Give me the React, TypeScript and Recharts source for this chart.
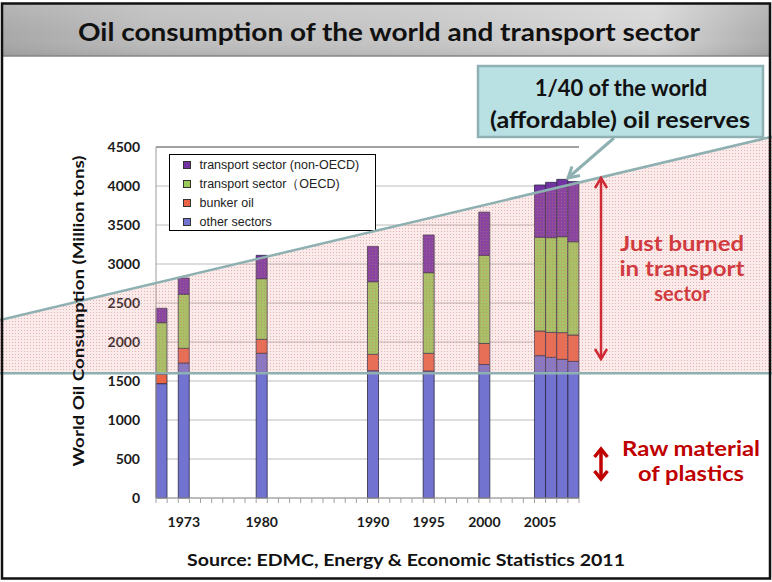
import React from 'react';
import { BarChart, Bar, XAxis, YAxis, CartesianGrid, Legend, ReferenceLine } from 'recharts';

// ---------- data ----------
const AXIS_YEARS = [
  '1971', '1972', '1973', '1974', '1975', '1976', '1977', '1978', '1979', '1980',
  '1981', '1982', '1983', '1984', '1985', '1986', '1987', '1988', '1989', '1990',
  '1991', '1992', '1993', '1994', '1995', '1996', '1997', '1998', '1999', '2000',
  '2001', '2002', '2003', '2004', '2005', '2006', '2007', '2008',
];
const LABEL_YEARS = ['1973', '1980', '1990', '1995', '2000', '2005'];
const BAR_YEARS = ['1971', '1973', '1980', '1990', '1995', '2000', '2005', '2006', '2007', '2008'];
const OTHER_SECTORS = [1466, 1730, 1855, 1632, 1628, 1712, 1825, 1803, 1778, 1752];
const BUNKER_OIL = [124, 189, 179, 210, 227, 269, 316, 321, 342, 338];
const TRANSPORT_OECD = [658, 692, 778, 931, 1034, 1128, 1201, 1214, 1230, 1196];
const TRANSPORT_NON_OECD = [184, 209, 299, 453, 483, 556, 671, 709, 735, 770];
const Y_TICKS = [0, 500, 1000, 1500, 2000, 2500, 3000, 3500, 4000, 4500];

const SERIES = [
  { key: 'other', name: 'other sectors', color: '#7272d0' },
  { key: 'bunker', name: 'bunker oil', color: '#ea6446' },
  { key: 'oecd', name: 'transport sector（OECD)', color: '#9acb5a' },
  { key: 'nonOecd', name: 'transport sector (non-OECD)', color: '#7232a2' },
];

const data = AXIS_YEARS.map((year) => {
  const i = BAR_YEARS.indexOf(year);
  if (i < 0) return { year };
  return {
    year,
    other: OTHER_SECTORS[i],
    bunker: BUNKER_OIL[i],
    oecd: TRANSPORT_OECD[i],
    nonOecd: TRANSPORT_NON_OECD[i],
  };
});

// ---------- layout ----------
const W = 772;
const H = 582;
const PLOT = { left: 156, right: 579, top: 147, bottom: 498 };
const Y_MAX = 4500;
const yPx = (v: number) => PLOT.bottom - (v / Y_MAX) * (PLOT.bottom - PLOT.top);
const PLASTICS_LEVEL = 1600;
const RESERVE_LEFT = 2282; // value of slanted line at left page edge
const RESERVE_RIGHT = 4632; // value at right page edge

const FONT = 'Lato, "Open Sans", sans-serif';

const XTick = (props: any) => {
  const { x, y, payload } = props;
  const half = payload && typeof payload.offset === 'number' && payload.offset > 0 ? payload.offset : 5.57;
  const v = String(payload.value);
  return (
    <g>
      <line x1={x - half} x2={x - half} y1={y} y2={y + 5} stroke="#a0a0a0" strokeWidth={1} />
      {v === '2008' && <line x1={x + half} x2={x + half} y1={y} y2={y + 5} stroke="#a0a0a0" strokeWidth={1} />}
      {LABEL_YEARS.includes(v) && (
        <text x={x} y={y + 29} textAnchor="middle" fontFamily={FONT} fontWeight={700} fontSize={14} fill="#1a1a1a">
          {v}
        </text>
      )}
    </g>
  );
};

const LegendBox = (props: any) => {
  const payload: any[] = props.payload || [];
  const order = ['nonOecd', 'oecd', 'bunker', 'other'];
  const items = order.map((k) => {
    const s = SERIES.find((q) => q.key === k)!;
    const p = payload.find((q: any) => q.dataKey === k);
    return { name: s.name, color: p ? p.color : s.color };
  });
  return (
    <div
      style={{
        width: 207,
        height: 77,
        border: '1px solid #000',
        background: '#fff',
        boxSizing: 'border-box',
        padding: '0.5px 0 0 12.5px',
        fontFamily: '"Liberation Sans", Arial, sans-serif',
        fontSize: 12.5,
        color: '#222',
      }}
    >
      {items.map((it) => (
        <div key={it.name} style={{ display: 'flex', alignItems: 'center', height: 19, whiteSpace: 'nowrap' }}>
          <span
            style={{
              display: 'inline-block',
              width: 8,
              height: 8,
              boxSizing: 'border-box',
              background: it.color,
              border: '1px solid #333',
              marginRight: 9,
            }}
          />
          {it.name}
        </div>
      ))}
    </div>
  );
};

const chevron = (x: number, y: number, dir: 1 | -1, w: number, h: number) =>
  `M${x - w},${y + dir * h} L${x},${y} L${x + w},${y + dir * h}`;

export default function App() {
  const yLine = yPx(PLASTICS_LEVEL);
  const ySL = yPx(RESERVE_LEFT);
  const ySR = yPx(RESERVE_RIGHT);
  return (
    <div style={{ position: 'absolute', left: 0, top: 0, width: W, height: H, background: '#fff', overflow: 'hidden' }}>
      <style>{'body{margin:0}'}</style>
      <div style={{ position: 'absolute', left: 0, top: 0 }}>
        <BarChart
          width={W}
          height={H}
          data={data}
          barCategoryGap={0}
          barGap={0}
          margin={{ top: PLOT.top, right: W - PLOT.right, bottom: H - PLOT.bottom - 40, left: PLOT.left - 60 }}
        >
          <CartesianGrid vertical={false} stroke="#bcbcbc" />
          <XAxis
            dataKey="year"
            type="category"
            interval={0}
            tickLine={false}
            tickSize={0}
            tickMargin={0}
            height={40}
            axisLine={{ stroke: '#9a9a9a' }}
            tick={<XTick />}
          />
          <YAxis
            domain={[0, Y_MAX]}
            ticks={Y_TICKS}
            width={60}
            tickLine={false}
            tickSize={0}
            tickMargin={16}
            axisLine={{ stroke: '#9a9a9a' }}
            tick={{ fontFamily: FONT, fontWeight: 700, fontSize: 14, fill: '#1a1a1a' }}
            interval={0}
          />
          <YAxis
            yAxisId="r"
            orientation="right"
            domain={[0, Y_MAX]}
            width={0}
            tick={false}
            tickLine={false}
            axisLine={{ stroke: '#1a1a1a' }}
          />
          <ReferenceLine y={Y_MAX} stroke="#666" />
          {SERIES.map((s) => (
            <Bar
              key={s.key}
              dataKey={s.key}
              name={s.name}
              stackId="a"
              fill={s.color}
              stroke="#2a2a44"
              strokeWidth={0.8}
              isAnimationActive={false}
            />
          ))}
          <Legend
            layout="vertical"
            align="center"
            verticalAlign="middle"
            content={<LegendBox />}
            wrapperStyle={{ left: 169, top: 154, width: 207, height: 77 }}
          />
        </BarChart>
      </div>

      <svg width={W} height={H} style={{ position: 'absolute', left: 0, top: 0, pointerEvents: 'none' }}>
        <defs>
          <pattern id="pinkdots" width="3" height="3" patternUnits="userSpaceOnUse">
            <rect width="3" height="3" fill="rgba(232,150,150,0.2)" />
            <rect width="1" height="1" fill="rgba(200,110,110,0.45)" />
          </pattern>
          <linearGradient id="banner" x1="0" x2="1" y1="0" y2="0">
            <stop offset="0" stopColor="#a8a8a8" />
            <stop offset="0.2" stopColor="#bdbdbd" />
            <stop offset="0.55" stopColor="#c6c6c6" />
            <stop offset="0.85" stopColor="#d6d6d6" />
            <stop offset="1" stopColor="#acacac" />
          </linearGradient>
          <linearGradient id="bannerV" x1="0" x2="0" y1="0" y2="1">
            <stop offset="0" stopColor="rgba(255,255,255,0.15)" />
            <stop offset="0.6" stopColor="rgba(255,255,255,0)" />
            <stop offset="1" stopColor="rgba(0,0,0,0.08)" />
          </linearGradient>
        </defs>

        {/* shaded transport band */}
        <polygon points={`0,${yLine} ${W},${yLine} ${W},${ySR} 0,${ySL}`} fill="url(#pinkdots)" />
        <line x1={0} y1={yLine} x2={W} y2={yLine} stroke="#8eb0b1" strokeWidth={2.5} />
        <line x1={0} y1={ySL} x2={W} y2={ySR} stroke="#8eb0b1" strokeWidth={2.5} />

        {/* banner */}
        <rect x={3} y={4} width={767} height={52} fill="url(#banner)" />
        <rect x={3} y={4} width={767} height={52} fill="url(#bannerV)" />
        <line x1={3} y1={56} x2={770} y2={56} stroke="#858585" strokeWidth={1.5} />
        <text
          x={389}
          y={41}
          textAnchor="middle"
          fontFamily={FONT}
          fontWeight={700}
          fontSize={24}
          fill="#111"
          textLength={622}
          lengthAdjust="spacingAndGlyphs"
        >
          Oil consumption of the world and transport sector
        </text>

        {/* frame */}
        <rect x={2} y={3.5} width={768} height={575} fill="none" stroke="#111" strokeWidth={2.5} />

        {/* y axis title */}
        <text
          transform="translate(84,311) rotate(-90)"
          textAnchor="middle"
          fontFamily={FONT}
          fontWeight={700}
          fontSize={15.5}
          fill="#111"
          textLength={311}
          lengthAdjust="spacingAndGlyphs"
        >
          World Oil Consumption  (Million tons)
        </text>

        {/* callout */}
        <line x1={614} y1={138} x2={569} y2={177} stroke="#8eb0b1" strokeWidth={3} />
        <path d="M580,175.5 L568,178 L572,166.5" fill="none" stroke="#8eb0b1" strokeWidth={3} strokeLinejoin="miter" />
        <rect x={478} y={66} width={285} height={71} fill="#b9e0e3" stroke="#8fb1b4" strokeWidth={2.5} />
        <text x={621} y={96} textAnchor="middle" fontFamily={FONT} fontWeight={700} fontSize={22} fill="#111">
          1/40 of the world
        </text>
        <text x={620} y={128} textAnchor="middle" fontFamily={FONT} fontWeight={700} fontSize={22} fill="#111" textLength={260} lengthAdjust="spacingAndGlyphs">
          (affordable) oil reserves
        </text>

        {/* big red arrow */}
        <line x1={601} y1={178} x2={601} y2={359} stroke="#d02a35" strokeWidth={2.5} />
        <path d={chevron(601, 178, 1, 6, 10)} fill="none" stroke="#d02a35" strokeWidth={2.5} />
        <path d={chevron(601, 359, -1, 6, 10)} fill="none" stroke="#d02a35" strokeWidth={2.5} />
        <g fontFamily={FONT} fontWeight={700} fontSize={20} fill="#d13a3e" textAnchor="middle">
          <text x={682} y={251} textLength={124} lengthAdjust="spacingAndGlyphs">Just burned</text>
          <text x={682} y={276} textLength={125} lengthAdjust="spacingAndGlyphs">in transport</text>
          <text x={682} y={301}>sector</text>
        </g>

        {/* small red arrow */}
        <line x1={601} y1={449} x2={601} y2={479} stroke="#c00000" strokeWidth={3.5} />
        <path d={chevron(601, 449, 1, 6.5, 8)} fill="none" stroke="#c00000" strokeWidth={3.5} />
        <path d={chevron(601, 479, -1, 6.5, 8)} fill="none" stroke="#c00000" strokeWidth={3.5} />
        <g fontFamily={FONT} fontWeight={700} fontSize={20} fill="#c00000" textAnchor="middle">
          <text x={691} y={456} textLength={138} lengthAdjust="spacingAndGlyphs">Raw material</text>
          <text x={691} y={481} textLength={106} lengthAdjust="spacingAndGlyphs">of plastics</text>
        </g>

        {/* source */}
        <text x={406} y={566} textAnchor="middle" fontFamily={FONT} fontWeight={700} fontSize={17.5} fill="#111" textLength={438} lengthAdjust="spacingAndGlyphs">
          Source: EDMC, Energy &amp; Economic Statistics 2011
        </text>
      </svg>
    </div>
  );
}
